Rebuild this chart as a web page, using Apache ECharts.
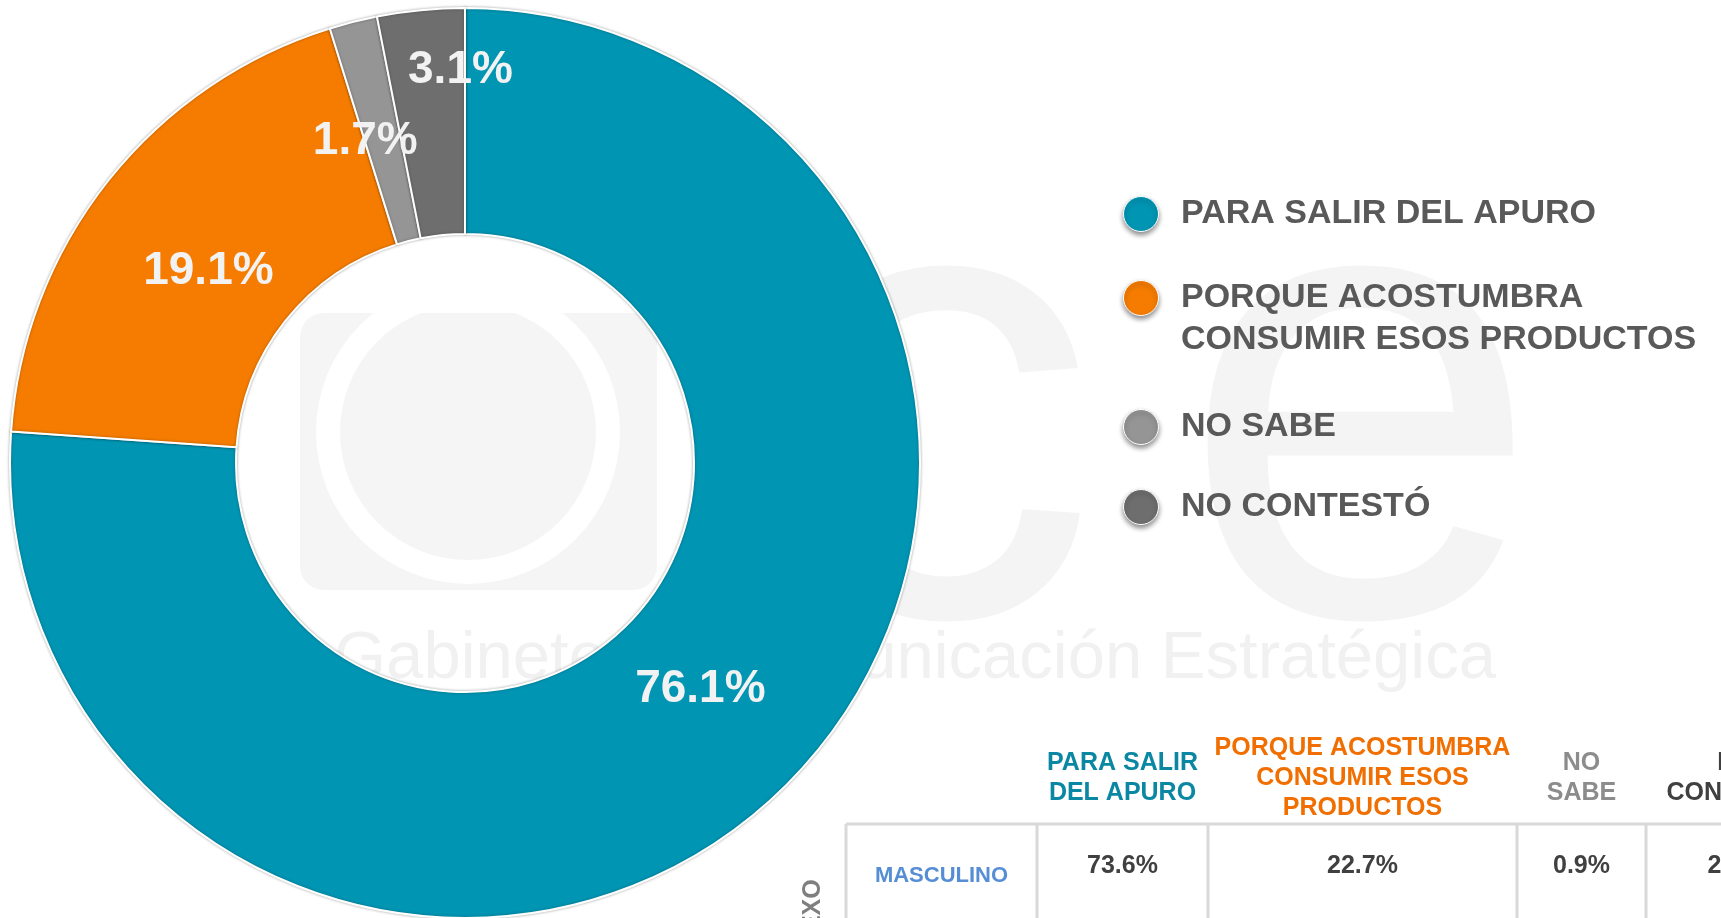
<!DOCTYPE html>
<html>
<head>
<meta charset="utf-8">
<script src="https://cdn.jsdelivr.net/npm/echarts@6/dist/echarts.min.js"></script>
<style>
  html, body { margin: 0; padding: 0; background: #fff; }
  #chart { width: 1721px; height: 918px; }
</style>
</head>
<body>
<div id="chart"></div>
<script>
// datos del anillo
const categories = ['PARA SALIR DEL APURO', 'PORQUE ACOSTUMBRA\nCONSUMIR ESOS PRODUCTOS', 'NO SABE', 'NO CONTESTÓ'];
const values = [76.1, 19.1, 1.7, 3.1];

// tabla por sexo
const tableHeaders = ['PARA SALIR\nDEL APURO', 'PORQUE ACOSTUMBRA\nCONSUMIR ESOS\nPRODUCTOS', 'NO\nSABE', 'NO\nCONTESTÓ'];
const tableGroup = 'SEXO';
const tableRows = ['MASCULINO'];
const masculino = [73.6, 22.7, 0.9, 2.8];

const colors = ['#0095b3', '#f57c00', '#959595', '#6e6e6e'];
const headerColors = ['#0a87a3', '#f06f00', '#8c8c8c', '#404040'];
const font = 'Liberation Sans';

let chart = echarts.init(document.getElementById('chart'));

// leyenda: una por elemento para controlar la posicion vertical
const legendCenters = [214, 298, 427, 507];
let legends = categories.map((name, i) => {
  let twoLines = name.indexOf('\n') !== -1;
  return {
    data: [name],
    orient: 'vertical',
    left: 1123,
    top: twoLines ? legendCenters[i] - 63 : legendCenters[i] - 21,
    padding: 0,
    icon: 'circle',
    itemWidth: 70,
    itemHeight: 35,
    selectedMode: false,
    // la segunda entrada lleva una linea vacia arriba para que el punto quede en la primera linea
    formatter: twoLines ? (n) => '\n' + n : '{name}',
    itemStyle: {
      borderColor: '#fff',
      borderWidth: 1,
      shadowBlur: 5,
      shadowOffsetY: 3,
      shadowColor: 'rgba(0,0,0,0.45)'
    },
    textStyle: {
      fontFamily: font,
      fontWeight: 'bold',
      fontSize: 34,
      lineHeight: 42,
      color: '#595959'
    }
  };
});

// marca de agua y tabla
const colEdges = [1037, 1208, 1517, 1646, 1826];
const tableLeft = 846;
const tableTop = 824;
let graphics = [
  { type: 'rect', z: -10, shape: { x: 300, y: 313, width: 357, height: 277, r: 24 }, style: { fill: '#f5f5f5' } },
  { type: 'circle', z: -9, shape: { cx: 468, cy: 432, r: 140 }, style: { fill: 'none', stroke: '#fff', lineWidth: 24 } },
  { type: 'text', z: -10, x: 772, y: 436, style: { text: 'c', font: '650px "Liberation Sans"', fill: '#f4f4f4', verticalAlign: 'middle' } },
  { type: 'text', z: -10, x: 1180, y: 436, style: { text: 'e', font: '650px "Liberation Sans"', fill: '#f4f4f4', verticalAlign: 'middle' } },
  { type: 'text', z: -10, x: 915, y: 660, style: { text: 'Gabinete de Comunicación Estratégica', font: '67px "Liberation Sans"', fill: '#f1f1f1', align: 'center', verticalAlign: 'middle' } },
  { type: 'line', shape: { x1: tableLeft, y1: tableTop, x2: 1721, y2: tableTop }, style: { stroke: '#d9d9d9', lineWidth: 3 } },
  { type: 'line', shape: { x1: tableLeft, y1: tableTop, x2: tableLeft, y2: 918 }, style: { stroke: '#d9d9d9', lineWidth: 3 } },
  {
    type: 'text', x: 813, y: 914, rotation: Math.PI / 2,
    style: { text: tableGroup, font: 'bold 25px "Liberation Sans"', fill: '#7f7f7f', align: 'center', verticalAlign: 'middle' }
  },
  {
    type: 'text', x: (tableLeft + colEdges[0]) / 2, y: 876,
    style: { text: tableRows[0], font: 'bold 22px "Liberation Sans"', fill: '#558ed5', align: 'center', verticalAlign: 'middle' }
  }
];
tableHeaders.forEach((h, i) => {
  let cx = (colEdges[i] + colEdges[i + 1]) / 2;
  graphics.push({
    type: 'text', x: cx, y: 778,
    style: { text: h, font: 'bold 25px "Liberation Sans"', lineHeight: 30, fill: headerColors[i], align: 'center', verticalAlign: 'middle' }
  });
  graphics.push({
    type: 'line', shape: { x1: colEdges[i], y1: tableTop, x2: colEdges[i], y2: 918 }, style: { stroke: '#d9d9d9', lineWidth: 3 }
  });
  graphics.push({
    type: 'text', x: cx, y: 866,
    style: { text: masculino[i].toFixed(1) + '%', font: 'bold 25px "Liberation Sans"', fill: '#404040', align: 'center', verticalAlign: 'middle' }
  });
});

// ajuste fino de etiquetas
const labelShift = [[0, -26], [14, 22], [-15, 13], [29, -49]];

let option = {
  backgroundColor: '#fff',
  animation: false,
  color: colors,
  legend: legends,
  graphic: graphics,
  series: [
    {
      name: 'motivo',
      type: 'pie',
      center: [465, 463],
      radius: [229, 455],
      startAngle: 90,
      clockwise: true,
      avoidLabelOverlap: false,
      itemStyle: {
        borderColor: '#fff',
        borderWidth: 2,
        shadowBlur: 3,
        shadowColor: 'rgba(0,0,0,0.3)'
      },
      label: {
        show: true,
        position: 'inside',
        formatter: '{c}%',
        fontFamily: font,
        fontWeight: 'bold',
        fontSize: 46,
        color: '#f2f2f2'
      },
      labelLayout: function (params) {
        let s = labelShift[params.dataIndex];
        return { dx: s[0], dy: s[1] };
      },
      labelLine: { show: false },
      data: categories.map((name, i) => ({ name: name, value: values[i] }))
    }
  ]
};

chart.setOption(option);
</script>
</body>
</html>
